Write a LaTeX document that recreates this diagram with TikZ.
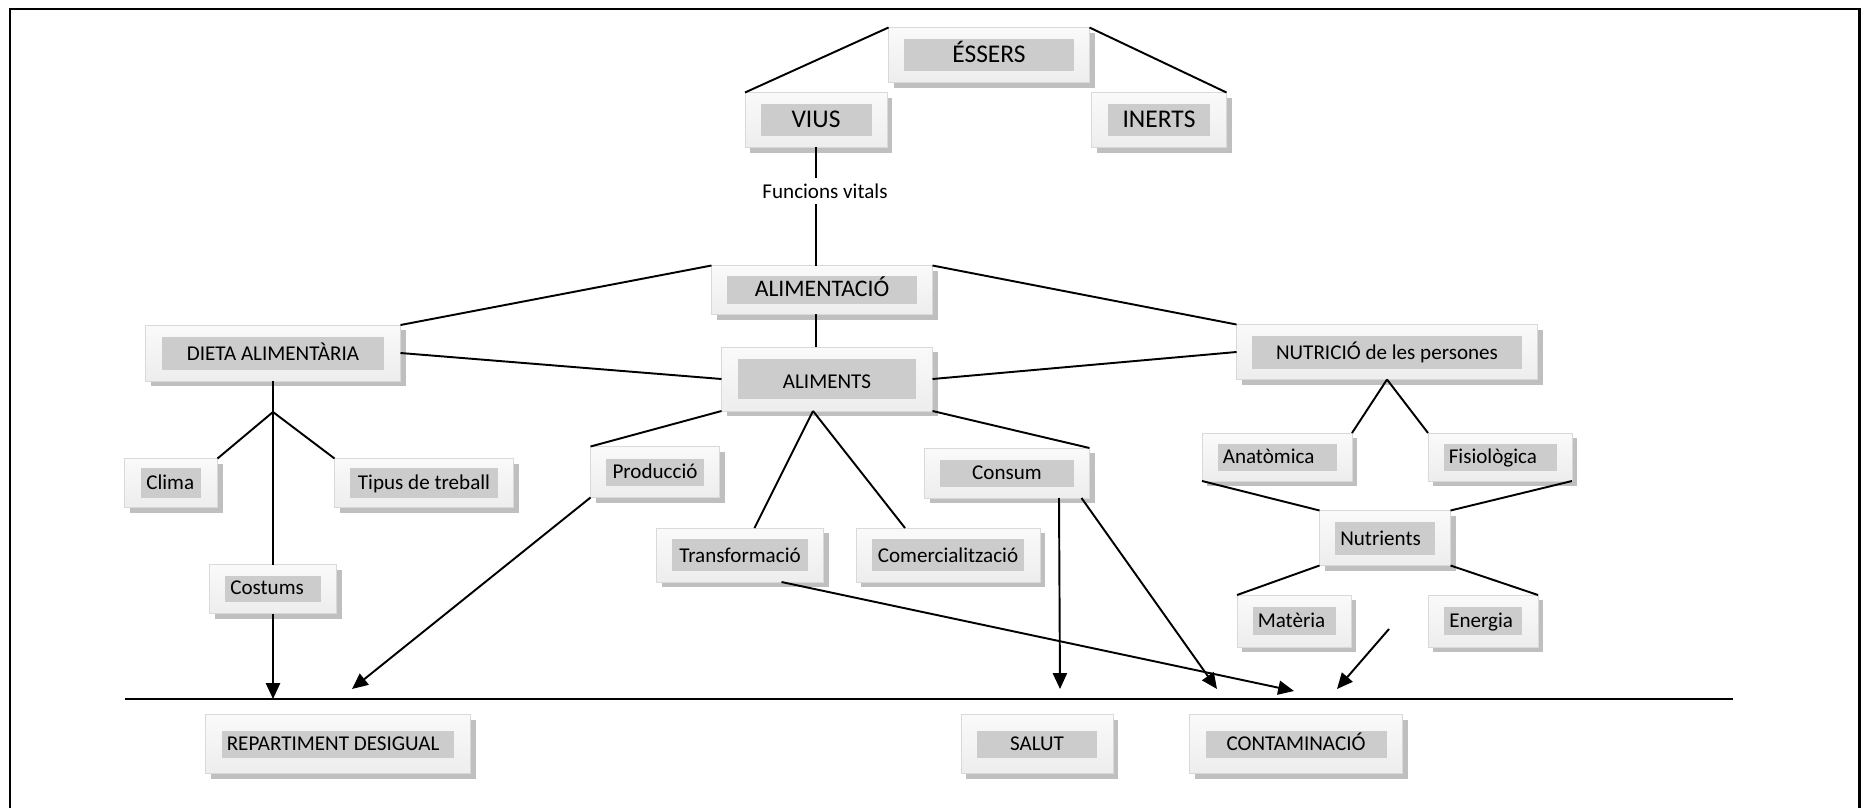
\documentclass[tikz,border=0pt]{standalone}
\usepackage{fontspec}
\setmainfont{Carlito}
\usepackage{tikz}
\usetikzlibrary{positioning,shadows,arrows.meta}

\colorlet{chipgray}{black!20}
% grey label strip inside a card: [align]{width}{height}{text}
\newcommand{\chip}[4][c]{{\setlength{\fboxsep}{0pt}\colorbox{chipgray}{\makebox[#2][#1]{\rule[\dimexpr-#3*27/100\relax]{0pt}{#3}\hspace{3pt}#4\hspace{3pt}}}}}

\tikzset{
  card/.style={draw=gray!30,line width=0.4pt,top color=gray!4,bottom color=gray!14,
    inner sep=0pt,outer sep=0pt,
    drop shadow={shadow xshift=3pt,shadow yshift=-3pt,fill=gray!50,opacity=1},
    font=\fontsize{12}{14}\selectfont},
  bigcard/.style={card,font=\fontsize{14.5}{17}\selectfont},
  link/.style={line width=1.1pt},
  flow/.style={link,-{Triangle[width=8pt,length=9pt]}},
}

\begin{document}
\begin{tikzpicture}[x=0.02cm,y=-0.02cm]
		\useasboundingbox (0,0) rectangle (1872,808);
		\draw[line width=0.06cm] (10,808) -- (10,9) -- (1859,9) -- (1859,808);
		
		% top of the tree
		\node[bigcard,minimum width=4.02cm,minimum height=1.1cm] (essers) at (989,55) {\chip{3.4cm}{0.66cm}{ÉSSERS}};
		\node[bigcard,minimum width=2.84cm,minimum height=1.1cm] (vius) at (816,120) {\chip{2.22cm}{0.64cm}{VIUS}};
		\node[bigcard,minimum width=2.7cm,minimum height=1.1cm] (inerts) at (1159,120) {\chip{2.04cm}{0.64cm}{INERTS}};
		
		\draw[link] (essers.north west) -- (vius.north west);
		\draw[link] (essers.north east) -- (inerts.north east);
		
		\node[inner sep=3pt,font=\fontsize{12}{14}\selectfont] (fv) at (825,191) {Funcions vitals};
		
		\node[bigcard,font=\fontsize{13.5}{16}\selectfont,minimum width=4.42cm,minimum height=0.98cm] (alimentacio) at (822,290) {\chip{3.8cm}{0.54cm}{ALIMENTACIÓ}};
		\node[card,minimum width=4.22cm,minimum height=1.28cm] (aliments) at (827,379) {\chip{3.58cm}{0.8cm}{ALIMENTS}};
		
		\draw[link] (vius.south) -- (vius.south |- fv.north);
		\draw[link] (vius.south |- fv.south) -- (vius.south |- alimentacio.north);
		\draw[link] (vius.south |- alimentacio.south) -- (vius.south |- aliments.north);
		
		% second level
		\node[card,minimum width=5.1cm,minimum height=1.12cm] (dieta) at (273,353) {\chip{4.46cm}{0.66cm}{DIETA ALIMENTÀRIA}};
		\node[card,minimum width=6.02cm,minimum height=1.1cm] (nutricio) at (1387,352) {\chip{5.4cm}{0.66cm}{NUTRICIÓ de les persones}};
		
		\draw[link] (alimentacio.north west) -- (dieta.north east);
		\draw[link] (alimentacio.north east) -- (nutricio.north west);
		\draw[link] (dieta.east) -- (aliments.west);
		\draw[link] (aliments.east) -- (nutricio.west);
		
		% dieta branch
		\node[card,minimum width=1.86cm,minimum height=0.98cm] (clima) at (171,483) {\chip[l]{1.2cm}{0.6cm}{Clima}};
		\node[card,minimum width=3.58cm,minimum height=0.98cm] (tipus) at (424,483) {\chip{2.96cm}{0.6cm}{Tipus de treball}};
		\node[card,minimum width=2.54cm,minimum height=0.98cm] (costums) at (273,589) {\chip[l]{1.92cm}{0.52cm}{Costums}};
		
		\coordinate (dieta-fork) at (273,412);
		\draw[link] (dieta.south) -- (costums.north);
		\draw[link] (clima.north east) -- (dieta-fork) -- (tipus.north west);
		
		% aliments branch
		\node[card,minimum width=2.58cm,minimum height=1.02cm] (produccio) at (655,472) {\chip{1.96cm}{0.54cm}{Producció}};
		\node[card,minimum width=3.34cm,minimum height=1.08cm] (transf) at (740,555) {\chip{2.74cm}{0.64cm}{Transformació}};
		\node[card,minimum width=3.68cm,minimum height=1.08cm] (comerc) at (948,555) {\chip{3.06cm}{0.64cm}{Comercialització}};
		\node[card,minimum width=3.3cm,minimum height=1cm] (consum) at (1007,473) {\chip{2.7cm}{0.54cm}{Consum}};
		
		\draw[link] (aliments.south west) -- (produccio.north west);
		\draw[link] ([xshift=-0.28cm]aliments.south) -- ([xshift=0.29cm]transf.north);
		\draw[link] ([xshift=-0.28cm]aliments.south) -- ([xshift=-0.86cm]comerc.north);
		\draw[link] (aliments.south east) -- (consum.north east);
		
		% nutricio branch
		\node[card,minimum width=3cm,minimum height=0.96cm] (anat) at (1277,457) {\chip[l]{2.38cm}{0.54cm}{Anatòmica}};
		\node[card,minimum width=2.88cm,minimum height=0.96cm] (fisio) at (1500,457) {\chip[l]{2.26cm}{0.54cm}{Fisiològica}};
		\node[card,minimum width=2.62cm,minimum height=1.1cm] (nutrients) at (1385,538) {\chip[l]{2cm}{0.66cm}{Nutrients}};
		\node[card,minimum width=2.28cm,minimum height=1.04cm] (materia) at (1294,621) {\chip[l]{1.66cm}{0.56cm}{Matèria}};
		\node[card,minimum width=2.2cm,minimum height=1.04cm] (energia) at (1483,621) {\chip[l]{1.56cm}{0.56cm}{Energia}};
		
		\draw[link] (nutricio.south) -- (anat.north east);
		\draw[link] (nutricio.south) -- (fisio.north west);
		\draw[link] (anat.south west) -- (nutrients.north west);
		\draw[link] (fisio.south east) -- (nutrients.north east);
		\draw[link] (nutrients.south west) -- (materia.north west);
		\draw[link] (nutrients.south east) -- (energia.north east);
		
		% consequences
		\coordinate (base-l) at (125,699);
		\coordinate (base-r) at (1733,699);
		\draw[link] (base-l) -- (base-r);
		
		\node[card,minimum width=5.3cm,minimum height=1.18cm] (repart) at (338,744) {\chip[l]{4.66cm}{0.54cm}{REPARTIMENT DESIGUAL}};
		\node[card,minimum width=3.04cm,minimum height=1.18cm] (salut) at (1037,744) {\chip{2.4cm}{0.54cm}{SALUT}};
		\node[card,minimum width=4.26cm,minimum height=1.18cm] (contam) at (1296,744) {\chip{3.62cm}{0.54cm}{CONTAMINACIÓ}};
		
		\coordinate (tip-prod) at (352,689);
		\coordinate (tip-salut) at (1060,689);
		\coordinate (tip-cons) at (1217,689);
		\coordinate (tip-transf) at (1294,691);
		\coordinate (loose) at (1389,629);
		\coordinate (tip-loose) at (1337,689);
		
		\draw[flow] (costums.south) -- (costums.south |- base-l);
		\draw[flow] (produccio.south west) -- (tip-prod);
		\draw[flow] ([xshift=1.04cm]consum.south) -- (tip-salut);
		\draw[flow] ([xshift=-0.16cm]consum.south east) -- (tip-cons);
		\draw[flow] ([xshift=0.83cm]transf.south) -- (tip-transf);
		\draw[flow] (loose) -- (tip-loose);
	\end{tikzpicture}
\end{document}
